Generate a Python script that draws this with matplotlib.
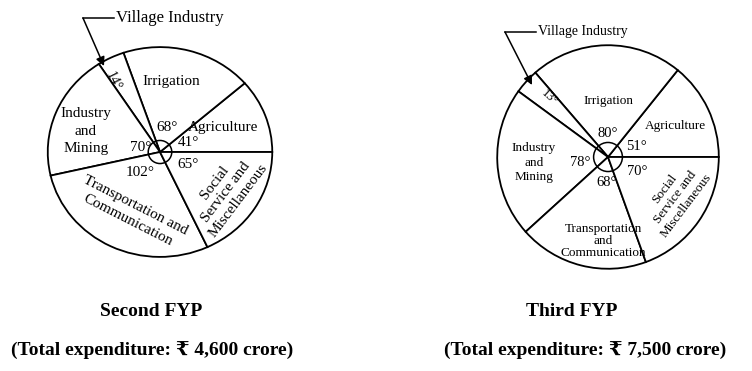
import matplotlib
matplotlib.use("Agg")
import matplotlib.pyplot as plt
from matplotlib.patches import Ellipse

plt.rcParams['font.family'] = ['Liberation Serif', 'DejaVu Serif']

# sectors, counter-clockwise from 3 o'clock (degrees of the circle)
sectors = ['Agriculture', 'Irrigation', 'Village Industry',
           'Industry and Mining', 'Transportation and Communication',
           'Social Service and Miscellaneous']
second_fyp = [41, 68, 14, 70, 102, 65]
third_fyp = [51, 80, 13, 78, 68, 70]
titles = ['Second FYP', 'Third FYP']
totals = ['(Total expenditure: \u20b9 4,600 crore)',
          '(Total expenditure: \u20b9 7,500 crore)']

W, H = 752, 371


def px_axes(fig, cx, cy, rx, ry):
    # axes whose unit circle sits at pixel centre (cx, cy)
    return fig.add_axes([(cx - rx) / W, (H - cy - ry) / H, 2 * rx / W, 2 * ry / H])


def draw_pie(ax, values, ring):
    ax.pie(values, startangle=0, counterclock=True, radius=1,
           wedgeprops=dict(facecolor='white', edgecolor='black', linewidth=1.3))
    ax.set_aspect('auto')
    ax.set_xlim(-1.02, 1.02)
    ax.set_ylim(-1.02, 1.02)
    ax.add_patch(Ellipse((0, 0), ring[0], ring[1], facecolor='none',
                         edgecolor='black', lw=1.1))
    ax.axis('off')


def deg(v):
    return '%d\u00b0' % v


fig = plt.figure(figsize=(W / 100, H / 100), dpi=100)

# ---- Second FYP
ax1 = px_axes(fig, 160, 152, 114.5, 107)
draw_pie(ax1, second_fyp, (0.21, 0.22))
fs = 11
ax1.text(0.10, 0.67, 'Irrigation', ha='center', va='center', fontsize=fs)
ax1.text(-0.66, 0.20, 'Industry\nand\nMining', ha='center', va='center',
         fontsize=fs, linespacing=1.45)
ax1.text(-0.17, 0.04, deg(second_fyp[3]), ha='center', va='center', fontsize=fs)
ax1.text(0.06, 0.23, deg(second_fyp[1]), ha='center', va='center', fontsize=fs)
ax1.text(0.56, 0.23, 'Agriculture', ha='center', va='center', fontsize=fs)
ax1.text(0.25, 0.09, deg(second_fyp[0]), ha='center', va='center', fontsize=fs)
ax1.text(-0.175, -0.20, deg(second_fyp[4]), ha='center', va='center', fontsize=fs)
ax1.text(0.25, -0.12, deg(second_fyp[5]), ha='center', va='center', fontsize=fs)
ax1.text(-0.42, 0.67, deg(second_fyp[2]), ha='center', va='center',
         fontsize=10, rotation=-64, rotation_mode='anchor')
ax1.text(-0.25, -0.58, 'Transportation and\nCommunication', ha='center', va='center',
         fontsize=fs, rotation=-27, rotation_mode='anchor', linespacing=1.3)
ax1.text(0.59, -0.38, 'Social\nService and\nMiscellaneous', ha='center', va='center',
         fontsize=fs, rotation=53, rotation_mode='anchor', linespacing=1.2)

# ---- Third FYP
ax2 = px_axes(fig, 608, 157, 113, 114)
draw_pie(ax2, third_fyp, (0.26, 0.26))
fs2 = 9.5
ax2.text(0.0, 0.50, 'Irrigation', ha='center', va='center', fontsize=fs2)
ax2.text(-0.53, 0.53, deg(third_fyp[2]), ha='center', va='center',
         fontsize=9, rotation=-42, rotation_mode='anchor')
ax2.text(0.0, 0.21, deg(third_fyp[1]), ha='center', va='center', fontsize=10.5)
ax2.text(0.61, 0.28, 'Agriculture', ha='center', va='center', fontsize=fs2)
ax2.text(0.26, 0.09, deg(third_fyp[0]), ha='center', va='center', fontsize=10.5)
ax2.text(-0.67, -0.05, 'Industry\nand\nMining', ha='center', va='center',
         fontsize=fs2, linespacing=1.3)
ax2.text(-0.25, -0.05, deg(third_fyp[3]), ha='center', va='center', fontsize=10.5)
ax2.text(0.265, -0.13, deg(third_fyp[5]), ha='center', va='center', fontsize=10.5)
ax2.text(-0.01, -0.23, deg(third_fyp[4]), ha='center', va='center', fontsize=10.5)
ax2.text(-0.04, -0.75, 'Transportation\nand\nCommunication', ha='center', va='center',
         fontsize=fs2, linespacing=1.0)
ax2.text(0.61, -0.36, 'Social\nService and\nMiscellaneous', ha='center', va='center',
         fontsize=fs2, rotation=53, rotation_mode='anchor', linespacing=1.15)

# ---- overlay for callouts and captions (pixel coordinates)
ov = fig.add_axes([0, 0, 1, 1])
ov.set_xlim(0, W)
ov.set_ylim(H, 0)
ov.axis('off')
ov.patch.set_alpha(0)

# village industry callouts
for (hx0, hx1, hy, tipx, tipy, fsz) in [(83, 114, 18, 104, 66, 12), (505, 536, 32, 532, 85, 10)]:
    ov.plot([hx0, hx1], [hy, hy], color='black', lw=1.1)
    ov.annotate('', xy=(tipx, tipy), xytext=(hx0, hy),
                arrowprops=dict(arrowstyle='-|>', color='black', lw=1.1,
                                mutation_scale=13, shrinkA=0, shrinkB=0))
    ov.text(hx1 + 2, hy, sectors[2], ha='left', va='center', fontsize=fsz)

ov.text(151, 311, titles[0], ha='center', va='center', fontsize=14, fontweight='bold')
ov.text(572, 311, titles[1], ha='center', va='center', fontsize=14, fontweight='bold')
ov.text(152, 351, totals[0], ha='center', va='center', fontsize=14, fontweight='bold')
ov.text(585, 351, totals[1], ha='center', va='center', fontsize=14, fontweight='bold')

fig.savefig('out.png', dpi=100, facecolor='white')
